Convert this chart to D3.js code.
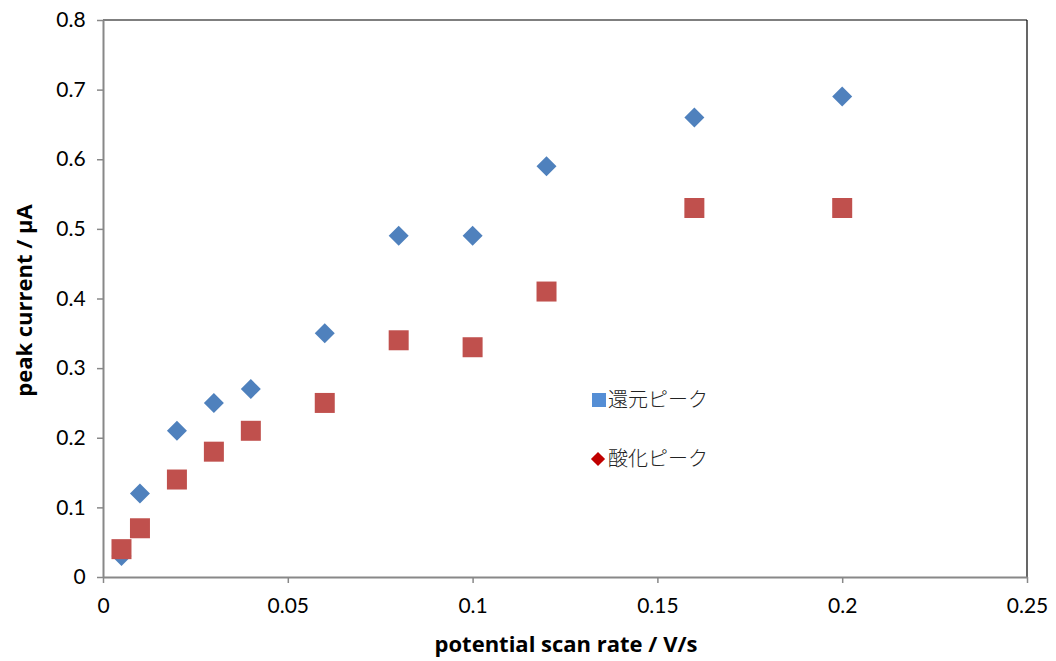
<!DOCTYPE html>
<html>
<head>
<meta charset="utf-8">
<style>
  body { margin: 0; background: #fff; }
  svg { display: block; font-family: 'Open Sans', sans-serif; }
</style>
</head>
<body>
<svg width="1056" height="661"></svg>
<script src="https://d3js.org/d3.v7.min.js"></script>
<script>
// scan rate (V/s)
let scanRates = [0.005, 0.01, 0.02, 0.03, 0.04, 0.06, 0.08, 0.1, 0.12, 0.16, 0.2]
// 還元ピーク (blue diamonds)
let reduction = [0.03, 0.12, 0.21, 0.25, 0.27, 0.35, 0.49, 0.49, 0.59, 0.66, 0.69]
// 酸化ピーク (red squares)
let oxidation = [0.04, 0.07, 0.14, 0.18, 0.21, 0.25, 0.34, 0.33, 0.41, 0.53, 0.53]
let xTicks = [0, 0.05, 0.1, 0.15, 0.2, 0.25]
let yTicks = [0, 0.1, 0.2, 0.3, 0.4, 0.5, 0.6, 0.7, 0.8]
let seriesNames = ["還元ピーク", "酸化ピーク"]

let svg = d3.select("svg")
let plotLeft = 103, plotRight = 1027, plotTop = 20, plotBottom = 577

let x = d3.scaleLinear().domain([0, 0.25]).range([plotLeft, plotRight])
let y = d3.scaleLinear().domain([0, 0.8]).range([plotBottom, plotTop])

// frame: black top/right, gray axes
svg.append("line").attr("x1", plotLeft).attr("x2", plotRight).attr("y1", plotTop).attr("y2", plotTop)
  .attr("stroke", "#000").attr("stroke-width", 1.2)
svg.append("line").attr("x1", plotRight).attr("x2", plotRight).attr("y1", plotTop).attr("y2", plotBottom)
  .attr("stroke", "#000").attr("stroke-width", 1.2)

let xAxis = svg.append("g").attr("transform", `translate(0,${plotBottom})`)
  .call(d3.axisBottom(x).tickValues(xTicks).tickFormat(d3.format("")).tickSize(6).tickSizeOuter(0))
let yAxis = svg.append("g").attr("transform", `translate(${plotLeft},0)`)
  .call(d3.axisLeft(y).tickValues(yTicks).tickFormat(d => d === 0 ? "0" : d3.format(".1f")(d)).tickSize(6).tickSizeOuter(0))

for (let ax of [xAxis, yAxis]) {
  ax.select(".domain").attr("stroke", "#888").attr("stroke-width", 2)
  ax.selectAll(".tick line").attr("stroke", "#888").attr("stroke-width", 1.5)
  ax.selectAll(".tick text").attr("font-size", 21).attr("fill", "#000")
    .attr("font-family", "Lato, 'Open Sans', sans-serif")
}
xAxis.selectAll(".tick text").attr("dy", "1.3em")
yAxis.selectAll(".tick text").attr("dx", "-0.4em")

// axis titles
svg.append("text").attr("x", (plotLeft + plotRight) / 2 + 1).attr("y", 652)
  .attr("text-anchor", "middle").attr("font-size", 22).attr("font-weight", "bold")
  .text("potential scan rate / V/s")
svg.append("text").attr("transform", `translate(32,${(plotTop + plotBottom) / 2 + 2}) rotate(-90)`)
  .attr("text-anchor", "middle").attr("font-size", 22).attr("font-weight", "bold")
  .text("peak current / μA")

let diamond = d3.symbol().type(d3.symbolSquare).size(200)
let square = d3.symbol().type(d3.symbolSquare).size(400)

svg.append("g").selectAll("path")
  .data(scanRates.map((r, i) => [r, reduction[i]]))
  .join("path")
  .attr("d", diamond)
  .attr("transform", d => `translate(${x(d[0])},${y(d[1])}) rotate(45)`)
  .attr("fill", "#4F81BD")

svg.append("g").selectAll("path")
  .data(scanRates.map((r, i) => [r, oxidation[i]]))
  .join("path")
  .attr("d", square)
  .attr("transform", d => `translate(${x(d[0])},${y(d[1])})`)
  .attr("fill", "#C0504D")

// legend (symbols as shown in the original)
let legend = svg.append("g").attr("font-family", "'Noto Sans CJK JP', sans-serif")
legend.append("rect").attr("x", 592).attr("y", 393).attr("width", 14).attr("height", 14).attr("fill", "#558ED5")
legend.append("text").attr("x", 608).attr("y", 407).attr("font-size", 20).attr("font-weight", 300).attr("fill", "#222").text(seriesNames[0])
legend.append("path").attr("d", d3.symbol().type(d3.symbolSquare).size(100))
  .attr("transform", "translate(598,459) rotate(45)").attr("fill", "#C00000")
legend.append("text").attr("x", 608).attr("y", 466).attr("font-size", 20).attr("font-weight", 300).attr("fill", "#222").text(seriesNames[1])
</script>
</body>
</html>
